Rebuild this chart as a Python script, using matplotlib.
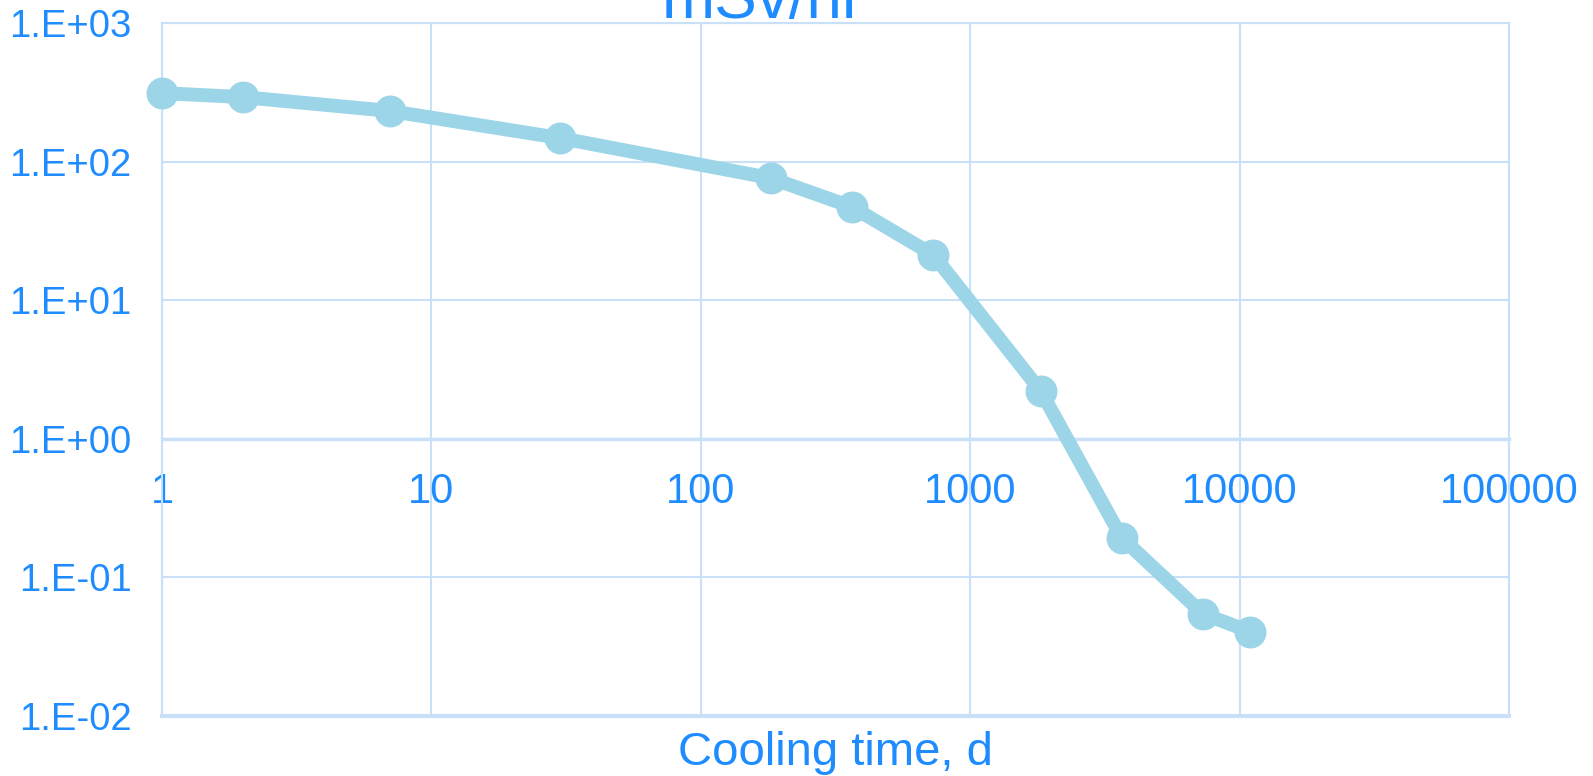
import numpy as np
import matplotlib
matplotlib.use('Agg')
from matplotlib import pyplot as plt

plt.rcParams['font.family'] = ['Liberation Sans', 'DejaVu Sans']

# dose rate vs cooling time
cooling_days = [1, 2, 7, 30, 182, 365, 730, 1826, 3652, 7305, 10958]
dose_rate = [312, 292, 232, 148, 76, 47, 21.2, 2.22, 0.193, 0.0547, 0.0406]

x_ticks = [1, 10, 100, 1000, 10000, 100000]
x_ticklabels = ['1', '10', '100', '1000', '10000', '100000']
y_ticks = [1e-2, 1e-1, 1e0, 1e1, 1e2, 1e3]
y_ticklabels = ['1.E-02', '1.E-01', '1.E+00', '1.E+01', '1.E+02', '1.E+03']

text_color = '#1E8CFF'
grid_color = '#C8E0F8'
line_color = '#9DD5E8'

fig = plt.figure(figsize=(15.93, 7.76), dpi=100)
ax = fig.add_axes([162 / 1593, 1 - 716 / 776, (1509 - 162) / 1593, (716 - 23) / 776])

ax.plot(cooling_days, dose_rate, '-o', color=line_color, lw=10, ms=22,
        solid_joinstyle='round', clip_on=False, zorder=3)

ax.set_xscale('log')
ax.set_yscale('log')
ax.set_xlim(1, 1e5)
ax.set_ylim(1e-2, 1e3)
ax.minorticks_off()

ax.set_xticks(x_ticks)
ax.set_xticklabels(x_ticklabels)
ax.set_yticks(y_ticks)
ax.set_yticklabels(y_ticklabels)

ax.grid(True, color=grid_color, lw=1.5)
ax.set_axisbelow(True)

# horizontal axis crosses at y = 1
ax.spines['bottom'].set_position(('data', 1))
for side in ['bottom', 'top', 'left', 'right']:
    ax.spines[side].set_color(grid_color)
    ax.spines[side].set_linewidth(1.5)
ax.spines['bottom'].set_linewidth(2.5)
ax.axhline(1e-2, color=grid_color, lw=3, clip_on=False, zorder=1)

ax.tick_params(axis='x', length=0, pad=24, labelsize=30, labelcolor=text_color)
ax.tick_params(axis='y', length=0, pad=22, labelsize=27.5, labelcolor=text_color)

fig.text(763 / 1593, 1 - 18 / 776, 'mSv/hr', ha='center', va='baseline',
         fontsize=46, color=text_color)
fig.text(835 / 1593, 1 - 765 / 776, 'Cooling time, d', ha='center', va='baseline',
         fontsize=34, color=text_color)

fig.savefig('out.png', dpi=100, facecolor='white')
